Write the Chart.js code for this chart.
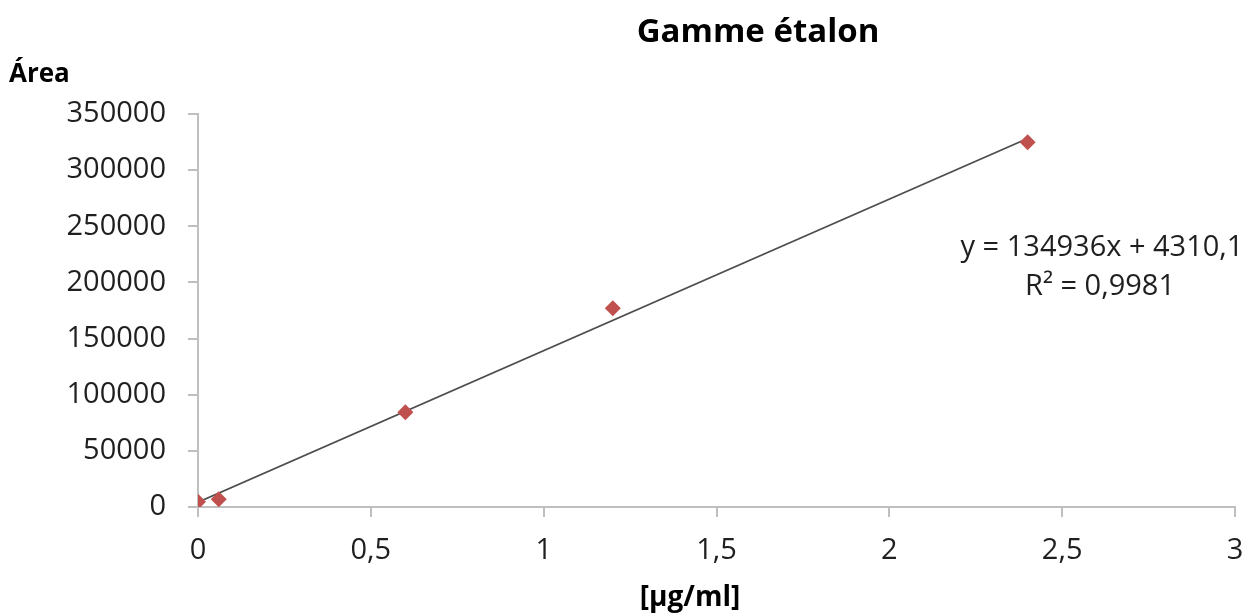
<!DOCTYPE html>
<html>
<head>
<meta charset="utf-8">
<script src="https://cdn.jsdelivr.net/npm/chart.js@4"></script>
<style>
  html, body { margin: 0; padding: 0; background: #fff; }
  #wrap { width: 1251px; height: 613px; }
</style>
</head>
<body>
<div id="wrap"><canvas id="myChart" width="1251" height="613"></canvas></div>
<script>
// concentrations and measured areas
var conc = [0, 0.06, 0.6, 1.2, 2.4]
var area = [4700, 6900, 84300, 177000, 324800]

// trendline as printed on the chart
var slope = 134936
var intercept = 4310.1
var r2Text = 'R² = 0,9981'
var eqText = 'y = 134936x + 4310,1'

var xTicks = [0, 0.5, 1, 1.5, 2, 2.5, 3]
var yTicks = [0, 50000, 100000, 150000, 200000, 250000, 300000, 350000]

var points = conc.map(function (c, i) { return { x: c, y: area[i] } })
var trend = [conc[0], conc[conc.length - 1]].map(function (c) {
    return { x: c, y: slope * c + intercept }
})

var font = '"Open Sans", sans-serif'
var textColor = '#1f1f1f'

var labels = {
    id: 'labels',
    afterDraw: function (chart) {
        var c = chart.ctx
        c.save()
        c.fillStyle = '#000'
        c.textBaseline = 'middle'
        c.textAlign = 'center'
        c.font = 'bold 33px ' + font
        c.fillText('Gamme étalon', 758, 33)
        c.font = 'bold 26px ' + font
        c.textAlign = 'left'
        c.fillText('Área', 9, 75)
        c.textAlign = 'center'
        c.font = 'bold 28px ' + font
        c.fillText('[µg/ml]', 690, 598)
        c.fillStyle = textColor
        c.font = '29px ' + font
        c.fillText(eqText, 1102, 248)
        c.fillText(r2Text, 1100, 287)
        c.restore()
    }
}

var ctx = document.getElementById('myChart')

var myChart = new Chart(ctx, {
    type: 'scatter',
    data: {
        datasets: [{
            label: 'Area',
            data: points,
            pointStyle: 'rectRot',
            pointRadius: 8,
            pointHoverRadius: 8,
            backgroundColor: '#c0504d',
            borderColor: '#c0504d',
            borderWidth: 0,
            order: 1
        }, {
            label: 'Linéaire',
            type: 'line',
            data: trend,
            borderColor: '#4d4d4d',
            borderWidth: 1.8,
            pointRadius: 0,
            fill: false,
            order: 2
        }]
    },
    options: {
        responsive: false,
        animation: false,
        layout: { padding: { left: 0, right: 0, top: 114, bottom: 0 } },
        plugins: {
            legend: { display: false },
            tooltip: { enabled: false }
        },
        scales: {
            x: {
                type: 'linear',
                min: 0,
                max: 3,
                afterBuildTicks: function (scale) {
                    scale.ticks = xTicks.map(function (v) { return { value: v } })
                },
                afterFit: function (scale) {
                    scale.height = 106
                    scale.paddingRight = 16
                },
                grid: { drawOnChartArea: false, drawTicks: true, tickLength: 10, tickColor: '#bfbfbf', lineWidth: 2 },
                border: { color: '#bfbfbf', width: 2 },
                ticks: {
                    padding: 16,
                    color: textColor,
                    font: { family: font, size: 29 },
                    callback: function (v) { return String(v).replace('.', ',') }
                }
            },
            y: {
                min: 0,
                max: 350000,
                afterBuildTicks: function (scale) {
                    scale.ticks = yTicks.map(function (v) { return { value: v } })
                },
                afterFit: function (scale) { scale.width = 198 },
                grid: { drawOnChartArea: false, drawTicks: true, tickLength: 10, tickColor: '#bfbfbf', lineWidth: 2 },
                border: { color: '#bfbfbf', width: 2 },
                ticks: {
                    padding: 22,
                    color: textColor,
                    font: { family: font, size: 29 },
                    callback: function (v) { return String(v) }
                }
            }
        }
    },
    plugins: [labels]
})
</script>
</body>
</html>
